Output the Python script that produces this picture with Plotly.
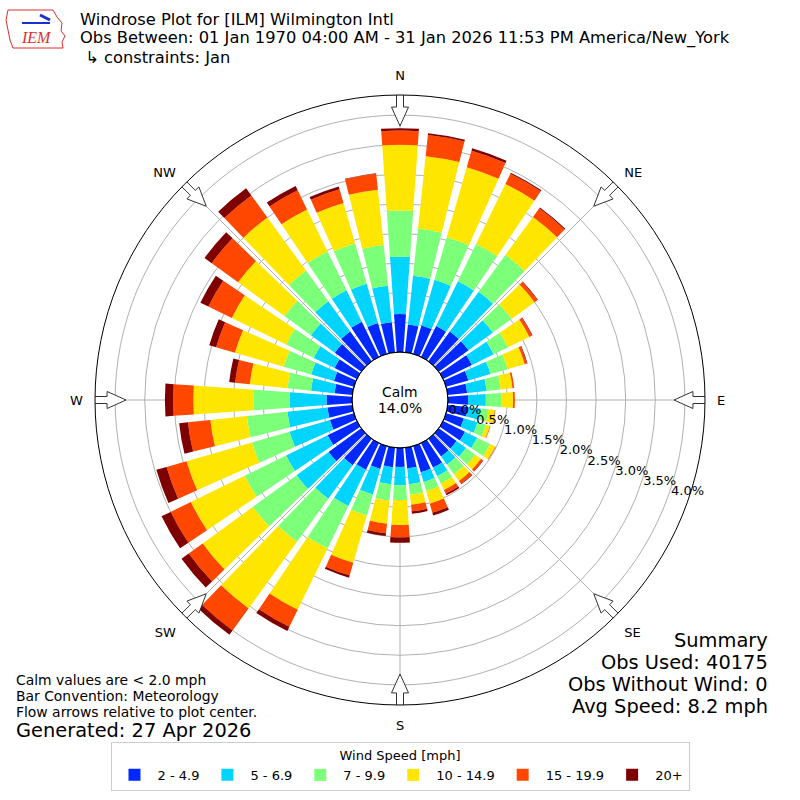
import numpy as np
import plotly.graph_objects as go

# wind directions (deg, bin centres) and speed classes
DIRECTIONS = list(range(0, 360, 10))
SPEED_BINS = ["2 - 4.9", "5 - 6.9", "7 - 9.9", "10 - 14.9", "15 - 19.9", "20+"]
COLORS = ["#0028ff", "#00d4ff", "#7cff79", "#ffe600", "#ff4700", "#7f0000"]

# frequency (%) per direction, one list per speed class
SPD_2_5 = [0.64, 0.47, 0.50, 0.58, 0.62, 0.62, 0.54, 0.39, 0.33, 0.34, 0.34, 0.31,
           0.41, 0.37, 0.37, 0.46, 0.46, 0.35, 0.32, 0.33, 0.40, 0.50, 0.55, 0.68,
           0.55, 0.42, 0.42, 0.43, 0.30, 0.35, 0.42, 0.55, 0.62, 0.66, 0.54, 0.51]
SPD_5_7 = [0.97, 0.83, 0.80, 0.84, 0.83, 0.51, 0.41, 0.39, 0.33, 0.30, 0.22, 0.24,
           0.23, 0.20, 0.17, 0.16, 0.17, 0.27, 0.31, 0.29, 0.45, 0.68, 0.70, 0.67,
           0.78, 0.71, 0.68, 0.62, 0.40, 0.40, 0.39, 0.50, 0.63, 0.59, 0.69, 0.62]
SPD_7_10 = [0.78, 0.80, 0.75, 0.70, 0.77, 0.39, 0.27, 0.30, 0.24, 0.27, 0.13, 0.15,
            0.24, 0.19, 0.20, 0.14, 0.16, 0.18, 0.25, 0.28, 0.37, 0.80, 0.90, 0.91,
            0.78, 0.66, 0.69, 0.61, 0.40, 0.48, 0.52, 0.55, 0.64, 0.73, 0.71, 0.69]
SPD_10_15 = [1.11, 1.23, 1.23, 1.13, 0.79, 0.48, 0.40, 0.30, 0.20, 0.19, 0.11, 0.07,
             0.10, 0.12, 0.14, 0.12, 0.22, 0.17, 0.42, 0.39, 0.83, 1.15, 1.39, 1.05,
             1.01, 1.15, 0.62, 1.02, 0.64, 0.86, 1.02, 0.97, 1.11, 0.79, 0.71, 0.94]
SPD_15_20 = [0.24, 0.36, 0.29, 0.19, 0.18, 0.06, 0.05, 0.04, 0.03, 0.03, 0.01, 0.01,
             0.01, 0.04, 0.06, 0.07, 0.16, 0.11, 0.21, 0.16, 0.22, 0.32, 0.46, 0.29,
             0.38, 0.35, 0.38, 0.34, 0.25, 0.33, 0.44, 0.55, 0.46, 0.36, 0.24, 0.27]
SPD_20P = [0.04, 0.03, 0.04, 0.02, 0.02, 0.01, 0.01, 0.01, 0.00, 0.00, 0.00, 0.00,
           0.00, 0.01, 0.01, 0.03, 0.05, 0.04, 0.09, 0.05, 0.04, 0.08, 0.09, 0.15,
           0.17, 0.18, 0.15, 0.14, 0.10, 0.12, 0.15, 0.15, 0.15, 0.08, 0.05, 0.01]
SERIES = [SPD_2_5, SPD_5_7, SPD_7_10, SPD_10_15, SPD_15_20, SPD_20P]

RING_VALS = [0, 0.5, 1.0, 1.5, 2.0, 2.5, 3.0, 3.5, 4.0]
RING_LABELS = ["0.0%", "0.5%", "1.0%", "1.5%", "2.0%", "2.5%", "3.0%", "3.5%", "4.0%"]
COMPASS_DEG = [0, 45, 90, 135, 180, 225, 270, 315]
COMPASS = ["N", "NE", "E", "SE", "S", "SW", "W", "NW"]

CALM = "14.0%"
SUMMARY = ["Summary", "Obs Used: 40175", "Obs Without Wind: 0", "Avg Speed: 8.2 mph"]

FONT = "DejaVu Sans"
W = H = 800
R_OUT = 305          # px radius of the polar area
HOLE_PX = 48         # px radius of the calm circle
RMAX = 4.34
PX_PER_PCT = (R_OUT - HOLE_PX) / RMAX


def px(x):
    return x / W


def py(y):
    return 1 - y / H


def arrow_shape(bearing):
    """Hollow flow arrow at the rim, pointing at the centre (pixel sizes -> polar units)."""
    pts = [(309, -3.5), (293, -3.5), (293, -8.5), (274, 0),
           (293, 8.5), (293, 3.5), (309, 3.5), (309, -3.5)]
    r = [(p - HOLE_PX) / PX_PER_PCT for p, _ in pts]
    th = [bearing + np.degrees(w / p) for p, w in pts]
    return r, th


fig = go.Figure()

for name, vals, col in zip(SPEED_BINS, SERIES, COLORS):
    fig.add_trace(go.Barpolar(
        r=vals, theta=DIRECTIONS, width=8, name=name,
        marker=dict(color=col, line=dict(width=0)),
        hoverinfo="skip",
    ))

for b in COMPASS_DEG:
    r, th = arrow_shape(b)
    fig.add_trace(go.Scatterpolar(
        r=r, theta=th, mode="lines", fill="toself", fillcolor="white",
        line=dict(color="#333333", width=1), cliponaxis=False,
        showlegend=False, hoverinfo="skip",
    ))

cx0, cx1 = px(400 - R_OUT), px(400 + R_OUT)

fig.update_layout(
    width=W, height=H,
    margin=dict(l=0, r=0, t=0, b=0),
    paper_bgcolor="white",
    font=dict(family=FONT, size=13, color="black"),
    polar=dict(
        domain=dict(x=[cx0, cx1], y=[cx0, cx1]),
        hole=HOLE_PX / R_OUT,
        bgcolor="white",
        barmode="stack",
        radialaxis=dict(
            range=[0, RMAX], tickvals=RING_VALS, ticktext=RING_LABELS,
            angle=-20, tickangle=-20, side="counterclockwise",
            showline=False, ticks="", gridcolor="#b0b0b0", gridwidth=1,
            layer="above traces", tickfont=dict(size=13, color="black"),
        ),
        angularaxis=dict(
            rotation=90, direction="clockwise",
            tickvals=COMPASS_DEG, ticktext=COMPASS,
            showline=True, linecolor="black", linewidth=1,
            gridcolor="#b0b0b0", gridwidth=1,
            ticks="outside", ticklen=9, tickcolor="rgba(0,0,0,0)",
            layer="above traces", tickfont=dict(size=13, color="black"),
        ),
    ),
    legend=dict(
        orientation="h", x=0.5, xanchor="center", y=py(742), yanchor="top",
        title=dict(text="Wind Speed [mph]", side="top center", font=dict(size=13)),
        font=dict(size=13), bordercolor="#cccccc", borderwidth=1, bgcolor="white",
        itemwidth=36, itemclick=False,
    ),
)

# calm circle outline
fig.add_shape(type="circle", xref="paper", yref="paper",
              x0=px(400 - HOLE_PX), x1=px(400 + HOLE_PX),
              y0=py(400 + HOLE_PX), y1=py(400 - HOLE_PX),
              line=dict(color="black", width=1))

# IEM logo (rough)
fig.add_shape(type="path", xref="paper", yref="paper",
              path="M {} {} L {} {} L {} {} L {} {} L {} {} L {} {} L {} {} L {} {} L {} {} L {} {} L {} {} L {} {} Z".format(
                  px(8), py(10), px(53), py(10), px(57), py(17), px(62), py(23),
                  px(61), py(31), px(65), py(36), px(62), py(42), px(63), py(48),
                  px(13), py(48), px(10), py(40), px(8), py(30), px(6), py(20)),
              line=dict(color="#d9302c", width=1))
fig.add_shape(type="line", xref="paper", yref="paper",
              x0=px(22), y0=py(23), x1=px(50), y1=py(23),
              line=dict(color="#1a2fd0", width=2))
fig.add_shape(type="line", xref="paper", yref="paper",
              x0=px(40), y0=py(15), x1=px(50), y1=py(20),
              line=dict(color="#1a2fd0", width=3))


def txt(x, y, s, size=14, xanchor="left", color="black", family=FONT, pad=1):
    fig.add_annotation(x=px(x), y=py(y), xref="paper", yref="paper", text=s,
                       showarrow=False, xanchor=xanchor, yanchor="middle",
                       borderpad=pad,
                       font=dict(size=size, color=color, family=family))


txt(36, 38, "<i>IEM</i>", size=16, xanchor="center", color="#d9302c", family="Liberation Serif")

txt(79, 19.5, "Windrose Plot for [ILM] Wilmington Intl", size=16.3, pad=0)
txt(79, 38.5, "Obs Between: 01 Jan 1970 04:00 AM - 31 Jan 2026 11:53 PM America/New_York", size=16.3, pad=0)
txt(79, 57.5, " ↳ constraints: Jan", size=16.3, pad=0)

txt(400, 392, "Calm", size=13.9, xanchor="center")
txt(400, 408, CALM, size=13.9, xanchor="center")

txt(14, 680, "Calm values are < 2.0 mph", size=13.9)
txt(14, 696, "Bar Convention: Meteorology", size=13.9)
txt(14, 712, "Flow arrows relative to plot center.", size=13.9)
txt(14, 730, "Generated: 27 Apr 2026", size=19.4)

for i, s in enumerate(SUMMARY):
    txt(770, 640 + 22 * i, s, size=19.4, xanchor="right")

# drop the default 8px page margin so the figure sits at the window origin
fig.write_html("out.html", config={"displayModeBar": False},
               post_script="document.body.style.margin='0px';")
